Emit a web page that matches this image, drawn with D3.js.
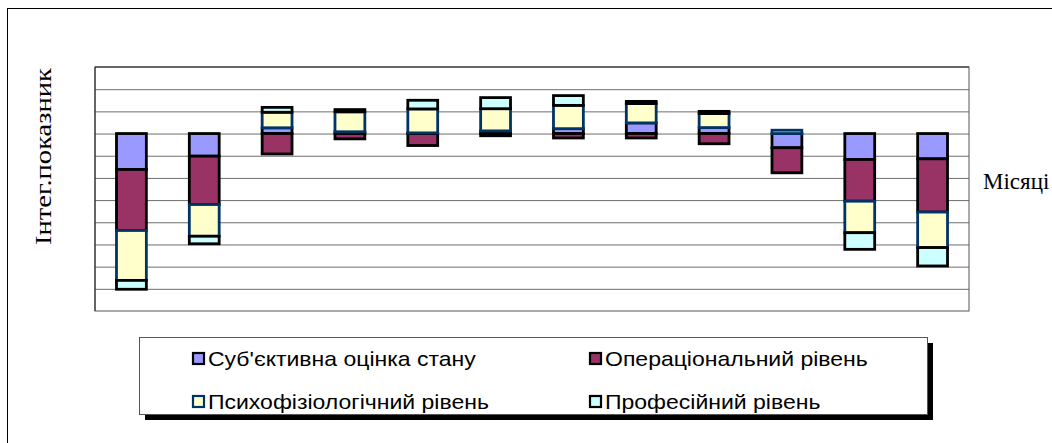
<!DOCTYPE html>
<html>
  <head>
    <meta charset="utf-8">
    <style>
      body { margin: 0; background: #fff; }
      .grid line { stroke: #6e6e6e; }
      .grid .domain { display: none; }
      .serif { font-family: "Liberation Serif", "Times New Roman", serif; fill: #000; }
      .leg { font-family: "Liberation Sans", Arial, sans-serif; font-size: 20px; fill: #000; }
    </style>
    <script src="https://d3js.org/d3.v7.min.js"></script>
  </head>

  <body>
    <svg width="1052" height="443"></svg>

    <script>
      var months = ["1", "2", "3", "4", "5", "6", "7", "8", "9", "10", "11", "12"];
      var seriesNames = ["Суб'єктивна оцінка стану", "Операціональний рівень", "Психофізіологічний рівень", "Професійний рівень"];
      var subjective = [-1.62, -1.02, 0.26, 0.08, 0.03, 0.12, 0.22, 0.48, 0.27, -0.64, -1.17, -1.14];
      var operational = [-2.75, -2.18, -0.92, -0.24, -0.54, -0.1, -0.2, -0.2, -0.46, -1.13, -1.88, -2.4];
      var psycho = [-2.25, -1.43, 0.7, 0.9, 1.08, 1.0, 1.05, 0.87, 0.63, 0.15, -1.42, -1.6];
      var professional = [-0.4, -0.34, 0.22, 0.1, 0.39, 0.5, 0.44, 0.1, 0.1, 0, -0.75, -0.83];
      var yTicks = [-8, -7, -6, -5, -4, -3, -2, -1, 0, 1, 2, 3];

      var fills = ["#9999ff", "#993366", "#ffffcc", "#ccffff"];
      var strokes = ["#000", "#000", "#003366", "#000"];

      var svg = d3.select("svg");
      var plotL = 95, plotT = 67, plotR = 969, plotB = 311;

      // outer chart frame
      svg.append("rect")
        .attr("x", 7.5).attr("y", 8.5)
        .attr("width", 1100).attr("height", 500)
        .attr("fill", "none").attr("stroke", "#000");

      var keys = ["s0", "s1", "s2", "s3"];
      var table = months.map(function (m, i) {
        return { month: m, s0: subjective[i], s1: operational[i], s2: psycho[i], s3: professional[i] };
      });

      var x = d3.scaleBand().domain(months).range([plotL, plotR])
        .paddingInner(0.59).paddingOuter(0.295);
      var y = d3.scaleLinear().domain([-8, 3]).range([plotB, plotT]);

      // gridlines
      svg.append("g")
        .attr("class", "grid")
        .attr("transform", "translate(" + plotL + ",0)")
        .call(d3.axisLeft(y).tickValues(yTicks.slice(1, -1)).tickSize(-(plotR - plotL)).tickFormat(""));

      // plot border
      svg.append("rect")
        .attr("x", plotL).attr("y", plotT)
        .attr("width", plotR - plotL).attr("height", plotB - plotT)
        .attr("fill", "none").attr("stroke", "#555");
      svg.append("line")
        .attr("x1", plotL).attr("x2", plotR).attr("y1", y(3)).attr("y2", y(3))
        .attr("stroke", "#222");
      svg.append("line")
        .attr("x1", plotL).attr("x2", plotL).attr("y1", plotT).attr("y2", plotB)
        .attr("stroke", "#222");

      var stacked = d3.stack().keys(keys).offset(d3.stackOffsetDiverging)(table);

      svg.selectAll(".series")
        .data(stacked)
        .enter()
        .append("g")
        .attr("class", "series")
        .attr("fill", function (d, i) { return fills[i]; })
        .attr("stroke", function (d, i) { return strokes[i]; })
        .attr("stroke-width", 2.8)
        .selectAll("rect")
        .data(function (d) { return d.filter(function (p) { return p[1] !== p[0]; }); })
        .enter()
        .append("rect")
        .attr("x", function (d) { return x(d.data.month); })
        .attr("width", x.bandwidth())
        .attr("y", function (d) { return y(Math.max(d[0], d[1])); })
        .attr("height", function (d) { return Math.abs(y(d[0]) - y(d[1])); });

      // axis titles
      svg.append("text")
        .attr("class", "serif")
        .attr("transform", "translate(51,156.5) rotate(-90)")
        .attr("text-anchor", "middle")
        .attr("font-size", 23)
        .attr("textLength", 177)
        .attr("lengthAdjust", "spacingAndGlyphs")
        .text("Інтег.показник");

      svg.append("text")
        .attr("class", "serif")
        .attr("x", 983).attr("y", 189)
        .attr("font-size", 23)
        .text("Місяці");

      // legend
      var legX = 139, legY = 337, legW = 788, legH = 77;
      svg.append("rect")
        .attr("x", legX + 6).attr("y", legY + 6)
        .attr("width", legW).attr("height", legH)
        .attr("fill", "#000");
      svg.append("rect")
        .attr("x", legX + 0.5).attr("y", legY + 0.5)
        .attr("width", legW).attr("height", legH)
        .attr("fill", "#fff").attr("stroke", "#555");

      var legPos = [[192, 352], [589, 352], [192, 395], [589, 395]];
      var items = svg.selectAll(".legitem")
        .data(seriesNames)
        .enter()
        .append("g")
        .attr("class", "legitem")
        .attr("transform", function (d, i) { return "translate(" + legPos[i][0] + "," + legPos[i][1] + ")"; });

      items.append("rect")
        .attr("x", 1).attr("y", 1)
        .attr("width", 11).attr("height", 11)
        .attr("fill", function (d, i) { return fills[i]; })
        .attr("stroke", function (d, i) { return strokes[i]; })
        .attr("stroke-width", 2.2);

      items.append("text")
        .attr("class", "leg")
        .attr("transform", "translate(16,14) scale(1.15,1)")
        .text(function (d) { return d; });
    </script>
  </body>
</html>
